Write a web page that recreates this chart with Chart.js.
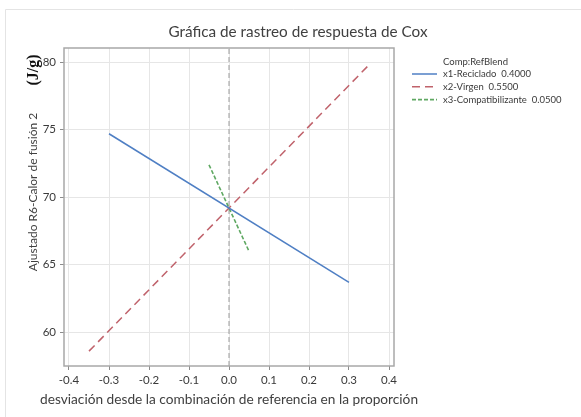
<!DOCTYPE html>
<html>
<head>
<meta charset="utf-8">
<script src="https://cdn.jsdelivr.net/npm/chart.js@4"></script>
<style>
  html, body { margin: 0; padding: 0; background: #fff; }
  #wrap { position: relative; width: 581px; height: 417px; }
</style>
</head>
<body>
<div id="wrap"><canvas id="coxChart"></canvas></div>
<script>
// values
const xTickValues = [-0.4, -0.3, -0.2, -0.1, 0.0, 0.1, 0.2, 0.3, 0.4];
const yTickValues = [60, 65, 70, 75, 80];
const xRange = [-0.4125, 0.4125];
const yRange = [57.5, 81.05];

const recicladoX = [-0.3, 0.3];
const recicladoY = [74.7, 63.7];
const virgenX = [-0.35, 0.35];
const virgenY = [58.6, 79.8];
const compatX = [-0.05, 0.05];
const compatY = [72.4, 66.0];

const seriesLabels = ['x1-Reciclado  0.4000', 'x2-Virgen  0.5500', 'x3-Compatibilizante  0.0500'];
const legendTitle = 'Comp:RefBlend';
const chartTitle = 'Gráfica de rastreo de respuesta de Cox';
const yTitle = 'Ajustado R6-Calor de fusión 2';
const yUnit = '(J/g)';
const xTitle = 'desviación desde la combinación de referencia en la proporción';

const FONT = 'Lato, "Open Sans", sans-serif';
const TEXT = '#3a3a3a';

function toPoints(xs, ys) {
  return xs.map((x, i) => ({ x: x, y: ys[i] }));
}

const annotations = {
  id: 'annotations',
  beforeDraw(chart) {
    const ctx = chart.ctx;
    ctx.save();
    ctx.fillStyle = '#fff';
    ctx.fillRect(0, 0, chart.width, chart.height);
    ctx.strokeStyle = '#e4e4e4';
    ctx.lineWidth = 1;
    ctx.beginPath();
    ctx.moveTo(5.5, chart.height);
    ctx.lineTo(5.5, 9.5);
    ctx.lineTo(chart.width, 9.5);
    ctx.stroke();
    ctx.restore();
  },
  afterDraw(chart) {
    const ctx = chart.ctx;
    const area = chart.chartArea;
    ctx.save();

    // plot frame
    ctx.strokeStyle = '#a8a8a8';
    ctx.lineWidth = 1.5;
    ctx.strokeRect(area.left, area.top, area.right - area.left, area.bottom - area.top);

    // title
    ctx.fillStyle = '#404040';
    ctx.textAlign = 'center';
    ctx.textBaseline = 'middle';
    ctx.font = '15.3px ' + FONT;
    ctx.fillText(chartTitle, 298, 32);

    // x title
    ctx.font = '13.7px ' + FONT;
    ctx.fillText(xTitle, (area.left + area.right) / 2, 400);

    // y title + unit
    ctx.save();
    ctx.translate(33, 192);
    ctx.rotate(-Math.PI / 2);
    ctx.font = '12px ' + FONT;
    ctx.fillText(yTitle, 0, 0);
    ctx.restore();
    ctx.save();
    ctx.translate(34, 70);
    ctx.rotate(-Math.PI / 2);
    ctx.fillStyle = '#111';
    ctx.font = 'bold 16px "Liberation Serif", "DejaVu Serif", serif';
    ctx.fillText(yUnit, 0, 0);
    ctx.restore();

    // legend
    ctx.textAlign = 'left';
    ctx.font = '9.5px ' + FONT;
    ctx.fillStyle = TEXT;
    ctx.fillText(legendTitle, 443, 62);
    chart.data.datasets.forEach((ds, i) => {
      if (ds.hideInLegend) return;
      const y = 74 + i * 12.8;
      ctx.strokeStyle = ds.borderColor;
      ctx.lineWidth = ds.borderWidth;
      ctx.setLineDash(ds.borderDash || []);
      ctx.beginPath();
      ctx.moveTo(412, y);
      ctx.lineTo(437, y);
      ctx.stroke();
      ctx.setLineDash([]);
      ctx.fillStyle = TEXT;
      ctx.fillText(ds.label, 443, y);
    });
    ctx.restore();
  }
};

new Chart(document.getElementById('coxChart'), {
  type: 'scatter',
  data: {
    datasets: [
      {
        label: seriesLabels[0],
        data: toPoints(recicladoX, recicladoY),
        showLine: true,
        borderColor: '#4f7fc4',
        borderWidth: 1.5,
        pointRadius: 0
      },
      {
        label: seriesLabels[1],
        data: toPoints(virgenX, virgenY),
        showLine: true,
        borderColor: '#c0626b',
        borderWidth: 1.5,
        borderDash: [8, 5],
        pointRadius: 0
      },
      {
        label: seriesLabels[2],
        data: toPoints(compatX, compatY),
        showLine: true,
        borderColor: '#5fa862',
        borderWidth: 1.6,
        borderDash: [4, 2],
        pointRadius: 0
      },
      {
        label: 'ref',
        hideInLegend: true,
        data: toPoints([0, 0], yRange),
        showLine: true,
        borderColor: '#9a9a9a',
        borderWidth: 1,
        borderDash: [5, 3],
        pointRadius: 0
      }
    ]
  },
  options: {
    responsive: true,
    maintainAspectRatio: false,
    animation: false,
    layout: { padding: { top: 48, left: 20, right: 187, bottom: 0 } },
    plugins: {
      legend: { display: false },
      title: { display: false },
      tooltip: { enabled: false }
    },
    scales: {
      x: {
        type: 'linear',
        min: xRange[0],
        max: xRange[1],
        afterBuildTicks: scale => { scale.ticks = xTickValues.map(v => ({ value: v })); },
        afterFit: scale => { scale.height = 51; },
        border: { display: false },
        grid: { color: '#e6e6e6', tickColor: '#8c8c8c', tickLength: 4 },
        ticks: {
          padding: 3,
          color: TEXT,
          font: { family: FONT, size: 11.5 },
          callback: v => v.toFixed(1)
        }
      },
      y: {
        type: 'linear',
        min: yRange[0],
        max: yRange[1],
        afterBuildTicks: scale => { scale.ticks = yTickValues.map(v => ({ value: v })); },
        afterFit: scale => { scale.width = 44; },
        border: { display: false },
        grid: { color: '#e6e6e6', tickColor: '#8c8c8c', tickLength: 4 },
        ticks: {
          padding: 4,
          color: TEXT,
          font: { family: FONT, size: 11.5 },
          callback: v => String(v)
        }
      }
    }
  },
  plugins: [annotations]
});
</script>
</body>
</html>
